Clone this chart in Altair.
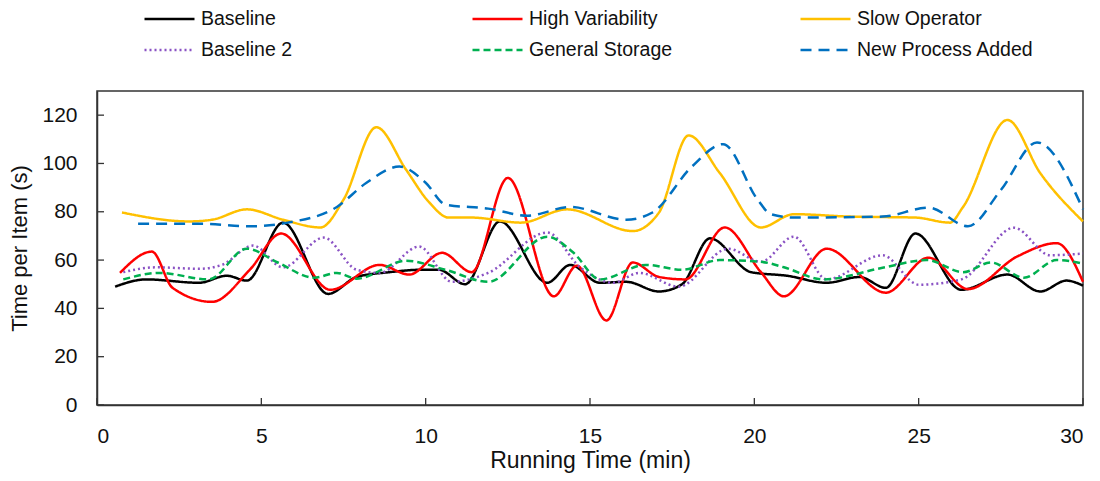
import altair as alt
import pandas as pd

series_order = ["Baseline", "High Variability", "Slow Operator",
                "Baseline 2", "General Storage", "New Process Added"]
series_colors = ["#000000", "#FF0000", "#FFC000", "#8A52C4", "#00B050", "#0070C0"]
series_dashes = [[1, 0], [1, 0], [1, 0], [2, 3], [7, 4], [11, 7]]

x_ticks = [0, 5, 10, 15, 20, 25, 30]
y_ticks = [0, 20, 40, 60, 80, 100, 120]

baseline_x = [0.55, 1.5, 3.1, 3.95, 4.56, 5.66, 7.03, 7.9, 8.9, 9.9, 10.4, 11.2, 12.26, 13.7,
              14.4, 15.3, 16.1, 17.1, 17.8, 18.65, 19.9, 21.0, 22.2, 23.2, 24.0, 24.9, 26.3,
              27.7, 28.7, 29.5, 30]
baseline_y = [49, 52, 50.6, 53.5, 51.5, 75.5, 46, 53, 55, 56, 56, 50, 76, 50.6,
              58, 50.6, 51, 47, 50, 69, 55, 53.5, 50.6, 53, 48.5, 71, 47.7,
              54, 47, 51.5, 49.4]

highvar_x = [0.7, 1.67, 2.3, 3.5, 4.65, 5.6, 7.1, 8.6, 9.5, 10.5, 11.4, 12.5, 13.9, 14.6,
             15.5, 16.3, 17.1, 17.9, 19.1, 20.2, 20.9, 22.2, 24.0, 25.3, 26.5, 28.0, 29.2, 30]
highvar_y = [54.7, 63.5, 48.5, 42.7, 56, 71, 47.7, 58, 54, 63, 55, 94, 45, 57.7,
             35, 59, 53, 52, 73.5, 55, 45, 64.7, 46.5, 61, 48, 61.5, 67, 51]

slow_x = [0.76, 2.8, 3.5, 4.56, 5.66, 6.8, 7.5, 8.5, 9.4, 10.1, 10.7, 11.4, 12.9, 14.3,
          16.3, 17.1, 18.0, 18.95, 20.2, 21.2, 22.9, 24.9, 25.95, 26.35, 27.7, 28.7, 30]
slow_y = [79.7, 76, 76.7, 81, 76.7, 73.5, 85, 115, 97.5, 84, 77.6, 77.6, 75.5, 81,
          72, 79.7, 111.6, 96, 73.5, 79, 78, 77.6, 75.5, 82, 118, 96, 76]

baseline2_x = [0.8, 1.8, 3.1, 3.8, 4.75, 5.66, 6.9, 7.9, 8.6, 9.8, 10.8, 11.9, 13.7, 14.7,
               15.7, 16.5, 17.7, 19.2, 20.2, 21.2, 22.2, 23.9, 25.0, 26.3, 27.9, 29.0, 30]
baseline2_y = [55, 57, 56.4, 58, 66, 57, 69.3, 56, 54.7, 65.6, 51, 54.7, 71.4, 57,
               50.6, 54.7, 49, 64.7, 59.3, 69.7, 52, 62, 49.8, 52, 73.4, 62, 62.7]

storage_x = [0.8, 1.9, 3.4, 4.56, 5.5, 6.6, 7.3, 7.9, 9.4, 10.6, 11.9, 13.7, 14.5, 15.3,
             16.7, 17.8, 18.95, 20.2, 20.9, 22.1, 23.9, 25.25, 26.35, 27.2, 28.2, 29.2, 30]
storage_y = [52, 54.7, 52, 64.7, 59, 52.7, 54.7, 52.3, 59.7, 56, 51, 69.7, 63, 52,
             58, 56, 60, 59.3, 57, 52, 56.8, 60, 55, 59, 52.7, 60, 58.5]

newproc_x = [1.25, 3.2, 4.65, 5.8, 7.3, 8.2, 9.2, 10.0, 10.6, 11.9, 13.1, 14.4, 16.1, 16.9,
             18.1, 19.05, 20.1, 20.5, 21.2, 23.9, 25.3, 26.5, 27.5, 28.6, 30]
newproc_y = [75, 75, 74, 75.5, 82, 92, 98.7, 92, 83, 81.3, 78.4, 82, 76.7, 79.7,
             98.7, 108, 85, 79, 77.6, 78, 81.7, 74, 89, 108.7, 81]

series_data = {
    "Baseline": (baseline_x, baseline_y),
    "High Variability": (highvar_x, highvar_y),
    "Slow Operator": (slow_x, slow_y),
    "Baseline 2": (baseline2_x, baseline2_y),
    "General Storage": (storage_x, storage_y),
    "New Process Added": (newproc_x, newproc_y),
}

rows = []
for k, name in enumerate(series_order):
    xs, ys = series_data[name]
    for i, (a, b) in enumerate(zip(xs, ys)):
        rows.append({"series": name, "t": a, "v": b, "k": k, "i": i})
df = pd.DataFrame(rows)

FONT = "Liberation Sans"
W, H = 986, 314

x_scale = alt.Scale(domain=[0, 30], nice=False, zero=False)
y_scale = alt.Scale(domain=[0, 130], nice=False)

legend = alt.Legend(
    title=None, orient="none", legendX=46, legendY=-83, columns=3,
    direction="horizontal", symbolType="stroke", symbolSize=2500,
    symbolStrokeWidth=2.5, labelFont=FONT, labelFontSize=19.5, labelColor="#111",
    labelOffset=5, columnPadding=93, rowPadding=9, gridAlign="all", padding=0,
    labelLimit=400, clipHeight=22,
)

lines = alt.Chart(df).mark_line(interpolate="monotone", strokeWidth=2.5).encode(
    x=alt.X("t:Q", scale=x_scale,
            axis=alt.Axis(values=x_ticks, title="Running Time (min)", grid=False,
                          tickSize=0, labelPadding=20, domainColor="#333",
                          domainWidth=1.5, titlePadding=3, titleFontSize=23)),
    y=alt.Y("v:Q", scale=y_scale,
            axis=alt.Axis(values=y_ticks, title="Time per Item (s)", grid=False,
                          tickSize=0, labelPadding=20, domainColor="#333",
                          domainWidth=1.5, titlePadding=10, titleFontSize=22)),
    color=alt.Color("series:N", scale=alt.Scale(domain=series_order, range=series_colors),
                    legend=legend),
    strokeDash=alt.StrokeDash("series:N",
                              scale=alt.Scale(domain=series_order, range=series_dashes),
                              legend=legend),
    detail="k:O",
    order="i:Q",
)

xt = pd.DataFrame({"t": x_ticks})
yt = pd.DataFrame({"v": y_ticks})

x_tick_marks = alt.Chart(xt).mark_rule(color="#333", strokeWidth=1.3).encode(
    x=alt.X("t:Q", scale=x_scale), y=alt.value(H), y2=alt.value(H - 7))
y_tick_marks = alt.Chart(yt).mark_rule(color="#333", strokeWidth=1.3).encode(
    y=alt.Y("v:Q", scale=y_scale), x=alt.value(0), x2=alt.value(7))

chart = alt.layer(lines, x_tick_marks, y_tick_marks).properties(
    width=W, height=H,
    autosize=alt.AutoSizeParams(type="none"),
    padding={"left": 89, "top": 83, "right": 5, "bottom": 73},
).configure_view(
    stroke="#333", strokeWidth=1.5
).configure_axis(
    labelFont=FONT, labelFontSize=21, labelColor="#111",
    titleFont=FONT, titleColor="#111", titleFontWeight="normal",
)

chart.save("out.html", embed_options={"renderer": "svg", "actions": False})
